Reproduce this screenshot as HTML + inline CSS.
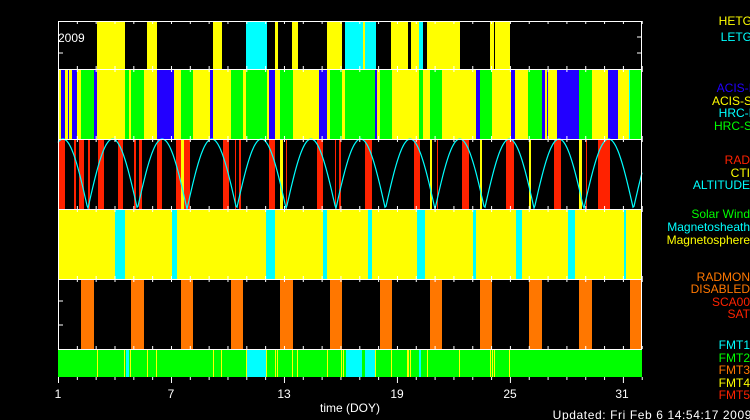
<!DOCTYPE html>
<html><head><meta charset="utf-8"><style>
html,body{margin:0;padding:0;background:#000;width:750px;height:420px;overflow:hidden}
svg{display:block}
text{font-family:"Liberation Sans",sans-serif;font-size:12px}
</style></head><body>
<svg id="s" width="750" height="420" xmlns="http://www.w3.org/2000/svg">
<rect width="750" height="420" fill="#000"/>
<g id="g"></g>
<text x="58" y="42" fill="#fff" font-size="17">2009</text>
<g text-anchor="end" font-size="13">
<text x="752" y="25" fill="#ffff00" font-size="13">HETG</text>
<text x="752" y="41" fill="#00ffff" font-size="13">LETG</text>
<text x="752" y="92" fill="#2200ff" font-size="13">ACIS-I</text>
<text x="752" y="105" fill="#ffff00" font-size="13">ACIS-S</text>
<text x="752" y="117" fill="#00ffff" font-size="13">HRC-I</text>
<text x="752" y="130" fill="#00ff00" font-size="13">HRC-S</text>
<text x="750" y="164" fill="#ff2200" font-size="13">RAD</text>
<text x="750" y="177" fill="#ffff00" font-size="13">CTI</text>
<text x="750" y="189" fill="#00ffff" font-size="13">ALTITUDE</text>
<text x="750" y="218" fill="#00ff00" font-size="13">Solar Wind</text>
<text x="750" y="231" fill="#00ffff" font-size="13">Magnetosheath</text>
<text x="750" y="244" fill="#ffff00" font-size="13">Magnetosphere</text>
<text x="750" y="281" fill="#ff7700" font-size="13">RADMON</text>
<text x="750" y="293" fill="#ff7700" font-size="13">DISABLED</text>
<text x="750" y="306" fill="#ff2200" font-size="13">SCA00</text>
<text x="750" y="318" fill="#ff2200" font-size="13">SAT</text>
<text x="750" y="349" fill="#00ffff" font-size="13">FMT1</text>
<text x="750" y="362" fill="#00ff00" font-size="13">FMT2</text>
<text x="750" y="374" fill="#ff7700" font-size="13">FMT3</text>
<text x="750" y="387" fill="#ffff00" font-size="13">FMT4</text>
<text x="750" y="399" fill="#ff2200" font-size="13">FMT5</text>
</g>
<g fill="#fff" text-anchor="middle" font-size="13">
<text x="58" y="398" font-size="13">1</text><text x="171" y="398" font-size="13">7</text><text x="284" y="398" font-size="13">13</text>
<text x="397" y="398" font-size="13">19</text><text x="510" y="398" font-size="13">25</text><text x="622" y="398" font-size="13">31</text>
<text x="350" y="412" font-size="13">time (DOY)</text>
<text x="752" y="419" text-anchor="end" font-size="13" letter-spacing="0.6">Updated: Fri Feb  6 14:54:17 2009</text>
</g>
</svg>
<script>
var g=document.getElementById('g'),NS='http://www.w3.org/2000/svg';
function r(x1,x2,y1,y2,c){var e=document.createElementNS(NS,'rect');e.setAttribute('x',x1);e.setAttribute('y',y1);e.setAttribute('width',Math.max(1,x2-x1));e.setAttribute('height',y2-y1);e.setAttribute('fill',c);g.appendChild(e);}
var Y='#ffff00',C='#00ffff',B='#2200ff',G='#00ff00',R='#ff2200',O='#ff7700';
[[97,125,Y],[147,157,Y],[213,222,Y],[246,267,C],[275,278,Y],[292,298,Y],[327,342,Y],[345,363,C],[363,365,Y],[365,375,C],[375,376,C],[391,408,Y],[411,419,Y],[419,423,C],[427,460,Y],[490,494,Y],[495,510,Y]].forEach(function(a){r(a[0],a[1],21,69,a[2]);});
r(58,642,69,139,Y);
[[61,65,B],[68,69,B],[72,77,B],[81,94,G],[94,97,B],[125,129,G],[131,144,G],[157,174,B],[181,193,G],[210,213,B],[231,243,G],[246,267,G],[269,275,B],[280,293,G],[319,327,B],[330,342,G],[345,375,G],[375,377,B],[380,392,G],[419,423,G],[430,442,G],[476,480,B],[480,492,G],[511,515,B],[528,542,G],[542,545,B],[547,548,B],[557,579,B],[579,592,G],[608,618,B],[629,630,C],[630,642,G]].forEach(function(a){r(a[0],a[1],69,139,a[2]);});
[[58,65,R],[74,76,R],[79,84,R],[88,90,R],[98,104,R],[118,123,R],[134,136,R],[139,142,R],[157,162,R],[176,181,R],[181,184,Y],[184,190,R],[223,229,R],[235,236,R],[239,241,R],[269,275,R],[280,283,Y],[286,287,R],[317,323,R],[335,336,R],[339,341,R],[365,372,R],[414,420,R],[430,432,Y],[437,438,R],[462,469,R],[480,482,Y],[506,514,R],[529,531,Y],[554,561,R],[579,582,Y],[586,587,R],[598,610,R]].forEach(function(a){r(a[0],a[1],139,209,a[2]);});
r(58,642,209,279,Y);
[[115,125],[172,177],[266,275],[323,327],[368,372],[417,425],[473,476],[516,522],[568,575],[624,626]].forEach(function(a){r(a[0],a[1],209,279,C);});
[[81,94],[131,144],[181,193],[231,243],[280,293],[330,342],[380,392],[430,442],[480,492],[529,542],[579,592],[630,642]].forEach(function(a){r(a[0],a[1],279,349,O);});
r(58,642,349,377,G);
[[126,129],[247,266],[346,362],[365,375],[419,421]].forEach(function(a){r(a[0],a[1],349,377,C);});
[97,124,130,147,156,213,221,246,266,275,277,292,297,327,341,343,375,391,407,408,410,427,459,490,492,494,509].forEach(function(x){r(x,x+1,349,377,Y);});
var d='',P=49.6,x0=63;
for(var x=58;x<=642;x++){var ph=(x-x0)/P*Math.PI;var v=Math.abs(Math.cos(ph));var y=209-70*v;d+=(x==58?'M':'L')+x+' '+y.toFixed(1);}
var p=document.createElementNS(NS,'path');p.setAttribute('d',d);p.setAttribute('stroke',C);p.setAttribute('fill','none');p.setAttribute('stroke-width','1.2');g.appendChild(p);
function ln(x1,y1,x2,y2){var e=document.createElementNS(NS,'line');e.setAttribute('x1',x1);e.setAttribute('y1',y1);e.setAttribute('x2',x2);e.setAttribute('y2',y2);e.setAttribute('stroke','#fff');e.setAttribute('stroke-width','1');g.appendChild(e);}
[[21,69],[69,139],[139,209],[209,279],[279,349]].forEach(function(p){
 var f=document.createElementNS(NS,'rect');f.setAttribute('x',58.5);f.setAttribute('y',p[0]+0.5);f.setAttribute('width',583);f.setAttribute('height',p[1]-p[0]);f.setAttribute('fill','none');f.setAttribute('stroke','#fff');g.appendChild(f);
 for(var i=0;i<32;i++){var tx=58.5+i*18.83;ln(tx,p[0],tx,p[0]+3);ln(tx,p[1],tx,p[1]-3);}
});
ln(58.5,53,63,53);ln(58.5,325,63,325);ln(58.5,301,63,301);ln(637,37,642,37);ln(637,53,642,53);
for(var i=0;i<32;i++){var tx=58.5+i*18.83;ln(tx,377,tx,(i%6==0)?383:380);}
</script>
</body></html>
